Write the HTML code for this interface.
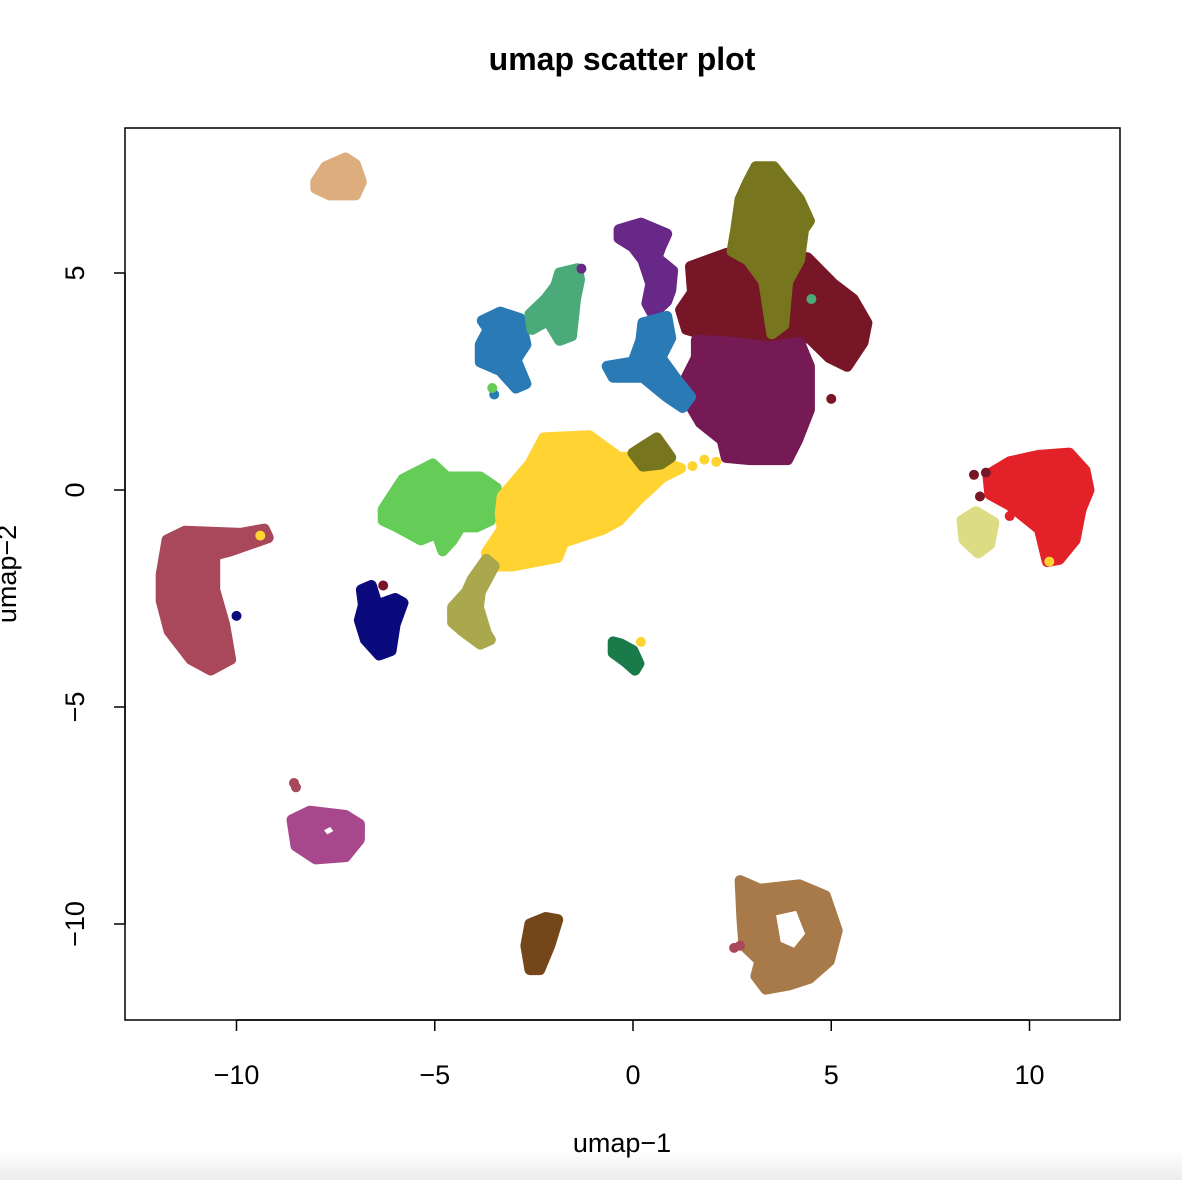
<!DOCTYPE html>
<html><head><meta charset="utf-8"><style>
body{margin:0;background:#fff;width:1182px;height:1180px;overflow:hidden;font-family:"Liberation Sans",sans-serif}
svg{display:block}
</style></head><body>
<svg id="chart" width="1182" height="1180" viewBox="0 0 1182 1180">
<defs><linearGradient id="bg" x1="0" y1="0" x2="0" y2="1"><stop offset="0" stop-color="#fff"/><stop offset="1" stop-color="#ececec"/></linearGradient></defs>
<rect x="0" y="1150" width="1182" height="30" fill="url(#bg)"/>
<text x="622" y="70" text-anchor="middle" font-size="32" font-weight="bold">umap scatter plot</text>
<text x="622" y="1152" text-anchor="middle" font-size="27">umap−1</text>
<text transform="translate(16,574) rotate(-90)" text-anchor="middle" font-size="27">umap−2</text>
<g id="marks"></g>
<rect x="125" y="128" width="995" height="892" fill="none" stroke="#000" stroke-width="1.5"/>
<g id="axes"></g>
</svg>
<script>
const xTicks=[-10,-5,0,5,10];
const yTicks=[-10,-5,0,5];
const clusterNames=["darkred","olive","magenta","purple","blue1","blue2","teal","green","yellow","olive2","khaki","navy","darkgreen","rose","pink","brown","tanbrown","red","paleyellow","tan"];
const clusterColors=["#761626","#77761E","#761A56","#682888","#2A7AB5","#2A7AB5","#4AAA7A","#66CC58","#FFD332","#77761E","#AAA84C","#0A0A7C","#1A7A4A","#A8485A","#A8488C","#74461A","#A87A4A","#E22228","#DCDC84","#DEAD7E"];
const darkred=[[1.45,5.15],[2.35,5.45],[2.9,5.55],[4.4,5.35],[5.05,4.75],[5.55,4.4],[5.9,3.85],[5.8,3.4],[5.4,2.85],[4.95,3.05],[4.45,3.5],[3.8,3.55],[2.95,3.45],[2.1,3.5],[1.35,3.7],[1.2,4.15],[1.5,4.55]];
const olive=[[3.1,7.45],[3.55,7.45],[3.9,7.05],[4.2,6.7],[4.45,6.2],[4.3,6.0],[4.2,5.3],[3.9,4.8],[3.8,3.8],[3.5,3.6],[3.3,4.8],[2.9,5.3],[2.5,5.5],[2.6,6.05],[2.7,6.7],[2.9,7.1]];
const magenta=[[1.6,3.45],[2.5,3.4],[3.4,3.3],[4.2,3.4],[4.45,2.85],[4.45,1.85],[4.15,1.15],[3.9,0.7],[2.95,0.7],[2.35,0.75],[2.25,1.15],[1.7,1.55],[1.25,2.25],[1.35,2.6],[1.6,3.05]];
const purple=[[-0.35,6.0],[0.2,6.15],[0.85,5.9],[0.7,5.6],[0.6,5.35],[1.0,5.05],[0.95,4.6],[0.85,4.35],[0.5,4.05],[0.35,4.3],[0.45,4.75],[0.25,5.3],[0.0,5.6],[-0.35,5.8]];
const blue1=[[-3.8,3.9],[-3.35,4.1],[-2.85,3.95],[-2.7,3.35],[-2.95,3.0],[-2.7,2.45],[-2.95,2.35],[-3.35,2.75],[-3.85,2.95],[-3.85,3.35],[-3.65,3.7]];
const blue2=[[0.25,3.85],[0.85,4.0],[0.95,3.5],[0.7,3.05],[1.1,2.55],[1.45,2.15],[1.25,1.9],[0.85,2.15],[0.25,2.6],[-0.5,2.6],[-0.65,2.85],[0,2.95],[0.2,3.45]];
const teal=[[-2.6,4.05],[-2.2,4.4],[-1.95,4.7],[-1.85,5.0],[-1.4,5.1],[-1.35,4.85],[-1.45,4.4],[-1.55,3.55],[-1.85,3.45],[-2.15,3.9],[-2.55,3.7]];
const green=[[-6.3,-0.45],[-5.8,0.25],[-5.05,0.6],[-4.7,0.3],[-3.85,0.3],[-3.45,0.05],[-3.6,-0.7],[-3.95,-0.85],[-4.35,-0.85],[-4.55,-1.15],[-4.8,-1.4],[-4.95,-1.0],[-5.35,-1.15],[-5.95,-0.85],[-6.3,-0.7]];
const yellow=[[-3.3,-0.15],[-2.6,0.6],[-2.25,1.2],[-1.1,1.25],[-0.35,0.75],[0.35,0.75],[1.2,0.5],[0.75,0.3],[0.1,-0.25],[-0.35,-0.7],[-0.75,-0.9],[-1.75,-1.2],[-1.9,-1.55],[-3.05,-1.75],[-3.45,-1.75],[-3.7,-1.45],[-3.3,-0.9],[-3.35,-0.55]];
const olive2=[[0,0.85],[0.6,1.2],[0.95,0.75],[0.7,0.6],[0.25,0.55]];
const khaki=[[-3.7,-1.6],[-3.5,-1.75],[-3.85,-2.35],[-3.9,-2.7],[-3.7,-3.3],[-3.6,-3.45],[-3.85,-3.55],[-4.3,-3.25],[-4.55,-3.05],[-4.55,-2.7],[-4.2,-2.35],[-4.05,-2.05]];
const navy=[[-6.85,-2.3],[-6.6,-2.2],[-6.45,-2.65],[-6.0,-2.5],[-5.8,-2.6],[-6.0,-3.1],[-6.1,-3.7],[-6.4,-3.8],[-6.75,-3.45],[-6.9,-3.0],[-6.8,-2.65]];
const darkgreen=[[-0.5,-3.5],[-0.3,-3.55],[0.0,-3.7],[0.15,-4.0],[0.05,-4.15],[-0.2,-3.95],[-0.5,-3.75]];
const rose=[[-11.9,-1.95],[-11.75,-1.15],[-11.3,-0.95],[-9.9,-1.0],[-9.3,-0.9],[-9.2,-1.1],[-10.15,-1.4],[-10.55,-1.5],[-10.55,-2.3],[-10.3,-3.1],[-10.15,-3.9],[-10.65,-4.15],[-11.15,-3.9],[-11.7,-3.25],[-11.9,-2.55]];
const pink=[[-8.6,-7.6],[-8.15,-7.4],[-7.25,-7.5],[-6.9,-7.7],[-6.9,-8.05],[-7.25,-8.45],[-8.0,-8.5],[-8.5,-8.2]];
const pinkHole=[[-8.0,-7.8],[-7.6,-7.6],[-7.35,-7.9],[-7.75,-8.1]];
const brown=[[-2.6,-10.0],[-2.2,-9.85],[-1.9,-9.9],[-2.1,-10.5],[-2.35,-11.05],[-2.6,-11.05],[-2.7,-10.5]];
const tanbrown=[[2.7,-9.0],[3.2,-9.2],[4.2,-9.1],[4.85,-9.35],[5.15,-10.15],[4.95,-10.85],[4.45,-11.25],[3.95,-11.4],[3.35,-11.5],[3.1,-11.2],[3.2,-10.85],[2.8,-10.5],[2.75,-9.9]];
const tanbrownHole=[[3.45,-9.7],[4.2,-9.55],[4.5,-10.25],[4.1,-10.7],[3.6,-10.5]];
const red=[[8.95,0.35],[9.5,0.65],[10.25,0.8],[11.0,0.85],[11.4,0.45],[11.5,0.0],[11.3,-0.45],[11.15,-1.15],[10.75,-1.6],[10.45,-1.65],[10.25,-0.9],[9.5,-0.35],[9.0,-0.1]];
const paleyellow=[[8.3,-0.7],[8.65,-0.5],[9.1,-0.75],[9.0,-1.25],[8.7,-1.45],[8.35,-1.15]];
const tan=[[-8.0,7.1],[-7.75,7.45],[-7.25,7.65],[-7.0,7.5],[-6.85,7.1],[-7.0,6.8],[-7.65,6.8],[-8.0,6.95]];
const strayX=[1.8,2.1,1.5,8.6,8.75,8.9,-3.5,-3.55,-1.3,-10.0,-8.55,-8.5,2.7,2.55,-6.3,0.2,10.5,9.5,-9.4,4.5,5.0];
const strayY=[0.7,0.65,0.55,0.35,-0.15,0.4,2.2,2.35,5.1,-2.9,-6.75,-6.85,-10.5,-10.55,-2.2,-3.5,-1.65,-0.6,-1.05,4.4,2.1];
const strayC=[8,8,8,0,0,0,4,7,3,11,13,13,13,13,0,8,8,17,8,6,0];
const clusterData=[darkred,olive,magenta,purple,blue1,blue2,teal,green,yellow,olive2,khaki,navy,darkgreen,rose,pink,brown,tanbrown,red,paleyellow,tan];
const holes={14:pinkHole,16:tanbrownHole};

const X0=125,X1=1120,Y0=128,Y1=1020;
function sx(v){return 633+v*39.65;}
function sy(v){return 490-v*43.4;}
const NS="http://www.w3.org/2000/svg";
const marks=document.getElementById('marks');
function ring(pts){return pts.map((p,i)=>(i?'L':'M')+sx(p[0]).toFixed(1)+','+sy(p[1]).toFixed(1)).join('')+'Z';}
clusterData.forEach((pts,i)=>{
  const p=document.createElementNS(NS,'path');
  let d=ring(pts);
  if(holes[i]) d+=ring(holes[i]);
  p.setAttribute('d',d);
  p.setAttribute('fill',clusterColors[i]);
  p.setAttribute('fill-rule','evenodd');
  p.setAttribute('stroke',clusterColors[i]);
  p.setAttribute('stroke-width','11');
  p.setAttribute('stroke-linejoin','round');
  
  
  marks.appendChild(p);
});
strayX.forEach((x,i)=>{
  const c=document.createElementNS(NS,'circle');
  c.setAttribute('cx',sx(x));c.setAttribute('cy',sy(strayY[i]));c.setAttribute('r',5);
  c.setAttribute('fill',clusterColors[strayC[i]]);
  
  
  marks.appendChild(c);
});
const axes=document.getElementById('axes');
function line(x1,y1,x2,y2,name){const l=document.createElementNS(NS,'line');l.setAttribute('x1',x1);l.setAttribute('y1',y1);l.setAttribute('x2',x2);l.setAttribute('y2',y2);l.setAttribute('stroke','#000');l.setAttribute('stroke-width','1.5');


axes.appendChild(l);}
function text(x,y,s,rot,name){const t=document.createElementNS(NS,'text');t.setAttribute('text-anchor','middle');t.setAttribute('font-size','27');
if(rot){t.setAttribute('transform','translate('+x+','+y+') rotate(-90)');}else{t.setAttribute('x',x);t.setAttribute('y',y);}
t.textContent=s;


axes.appendChild(t);}
line(sx(xTicks[0]),Y1,sx(xTicks[xTicks.length-1]),Y1,'x-axis-line');
xTicks.forEach(v=>{line(sx(v),Y1,sx(v),Y1+11,'x-tick');text(sx(v),1084,String(v).replace('-','−'),false,'x-tick-label');});
line(X0,sy(yTicks[0]),X0,sy(yTicks[yTicks.length-1]),'y-axis-line');
yTicks.forEach(v=>{line(X0,sy(v),X0-11,sy(v),'y-tick');text(84,sy(v),String(v).replace('-','−'),true,'y-tick-label');});
</script>
</body></html>
